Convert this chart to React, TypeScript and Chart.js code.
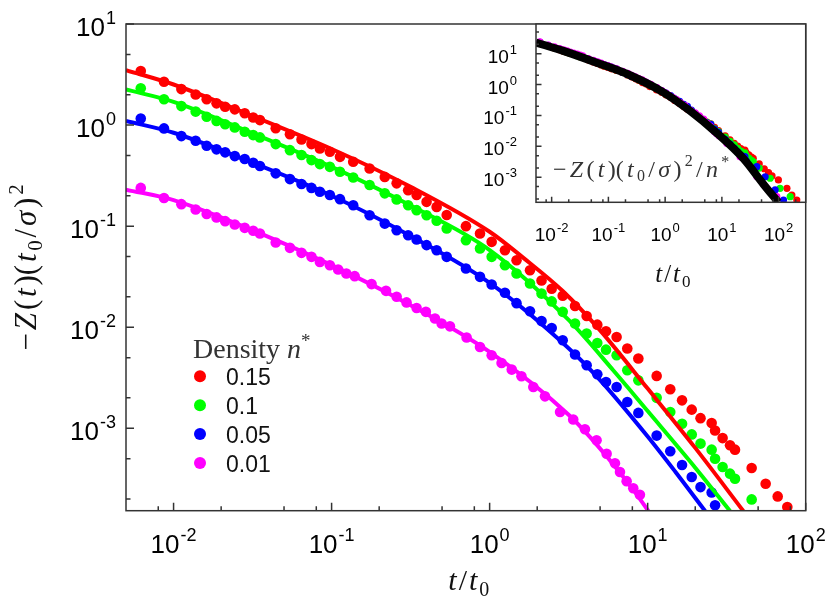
import React, { useEffect, useRef } from 'react';
import { Chart, registerables } from 'chart.js';

Chart.register(...registerables);

// ---------------- data ----------------
const densityLabels = ['0.15', '0.1', '0.05', '0.01'];
const densities = [0.15, 0.1, 0.05, 0.01];
const colors = ['#ff0000', '#00ff00', '#0000ff', '#ff00ff'];

// simulation points [t/t0, -Z (t0/sigma)^2]
const simRed: [number, number][] = [
  [0.0062, 3.43], [0.0087, 2.68], [0.0112, 2.27], [0.0138, 2.01], [0.0162, 1.8], [0.0187, 1.64],
  [0.0212, 1.52], [0.0244, 1.43], [0.0282, 1.31], [0.0319, 1.19], [0.0352, 1.12], [0.0443, 0.93],
  [0.0545, 0.81], [0.0645, 0.72], [0.0746, 0.648], [0.0843, 0.588], [0.0975, 0.544], [0.113, 0.485],
  [0.137, 0.433], [0.174, 0.372], [0.217, 0.307], [0.258, 0.265], [0.305, 0.227], [0.345, 0.203],
  [0.399, 0.174], [0.462, 0.155], [0.535, 0.129], [0.708, 0.1], [0.869, 0.0847], [1.03, 0.0699],
  [1.25, 0.0578], [1.48, 0.046], [1.8, 0.0366], [2.13, 0.029], [2.47, 0.024], [2.9, 0.0205],
  [3.47, 0.0162], [4.11, 0.0129], [4.8, 0.0106], [5.45, 0.0091], [6.36, 0.008], [7.43, 0.00615],
  [8.73, 0.0049], [11.4, 0.0033], [13.9, 0.00243], [16.5, 0.00189], [19.0, 0.00153], [21.6, 0.00126],
  [25.4, 0.00113], [26.7, 0.00095], [29.8, 0.0008], [33.2, 0.00068], [35.7, 0.000615], [45.5, 0.000405],
  [55.8, 0.000283], [66.5, 0.000212], [76.5, 0.000166], [99, 0.000123], [140, 0.000066], [171, 0.00004],
  [209, 0.0000276],
];
const simGreen: [number, number][] = [
  [0.0062, 2.31], [0.0087, 1.8], [0.0112, 1.54], [0.0138, 1.36], [0.0162, 1.21], [0.0187, 1.1],
  [0.0212, 1.02], [0.0244, 0.948], [0.0282, 0.859], [0.0319, 0.796], [0.0352, 0.755], [0.0443, 0.648],
  [0.0545, 0.565], [0.0645, 0.505], [0.0746, 0.45], [0.0843, 0.411], [0.0975, 0.386], [0.113, 0.345],
  [0.137, 0.303], [0.174, 0.255], [0.217, 0.211], [0.258, 0.184], [0.305, 0.161], [0.345, 0.144],
  [0.399, 0.128], [0.462, 0.113], [0.535, 0.0948], [0.708, 0.0726], [0.869, 0.0601], [1.03, 0.0497],
  [1.25, 0.0411], [1.48, 0.034], [1.8, 0.0271], [2.13, 0.0215], [2.47, 0.018], [2.9, 0.0142],
  [3.47, 0.0109], [4.11, 0.00867], [4.8, 0.00698], [5.45, 0.006], [6.36, 0.00528], [7.43, 0.00375],
  [8.73, 0.00298], [11.4, 0.002], [13.9, 0.00145], [16.5, 0.00111], [19.0, 0.00087], [21.6, 0.000706],
  [25.4, 0.000615], [26.7, 0.0005], [29.8, 0.000414], [33.2, 0.000356], [35.7, 0.000317], [45.5, 0.000198],
  [70.8, 0.000093], [106, 0.000044], [160, 0.0000235],
];
const simBlue: [number, number][] = [
  [0.0062, 1.16], [0.0087, 0.927], [0.0112, 0.778], [0.0138, 0.7], [0.0162, 0.624], [0.0187, 0.575],
  [0.0212, 0.537], [0.0244, 0.493], [0.0282, 0.461], [0.0319, 0.424], [0.0352, 0.393], [0.0443, 0.333],
  [0.0545, 0.292], [0.0645, 0.261], [0.0746, 0.239], [0.0843, 0.219], [0.0975, 0.203], [0.113, 0.185],
  [0.137, 0.161], [0.174, 0.128], [0.217, 0.106], [0.258, 0.0912], [0.305, 0.0814], [0.345, 0.0738],
  [0.399, 0.0649], [0.462, 0.0578], [0.535, 0.0497], [0.708, 0.0381], [0.869, 0.0315], [1.03, 0.0265],
  [1.25, 0.0219], [1.48, 0.0173], [1.8, 0.0144], [2.13, 0.0115], [2.47, 0.0098], [2.9, 0.00743],
  [3.47, 0.00537], [4.11, 0.00421], [4.8, 0.00343], [5.45, 0.00287], [6.36, 0.00256], [7.43, 0.00182],
  [8.73, 0.00142], [11.4, 0.000847], [13.9, 0.000592], [16.5, 0.000433], [19.0, 0.00033], [21.6, 0.000262],
  [25.4, 0.000232], [26.7, 0.000173], [41.2, 0.00011], [57.8, 0.000052], [86.7, 0.0000195], [122, 0.0000092],
];
const simMagenta: [number, number][] = [
  [0.0062, 0.239], [0.0087, 0.19], [0.0112, 0.165], [0.0138, 0.146], [0.0162, 0.132], [0.0187, 0.122],
  [0.0212, 0.112], [0.0244, 0.104], [0.0282, 0.0962], [0.0319, 0.0899], [0.0352, 0.0847], [0.0443, 0.069],
  [0.0545, 0.061], [0.0645, 0.0544], [0.0746, 0.0497], [0.0843, 0.0443], [0.0975, 0.0411], [0.11, 0.0373],
  [0.124, 0.034], [0.14, 0.032], [0.179, 0.0267], [0.221, 0.0229], [0.258, 0.02], [0.298, 0.0176],
  [0.345, 0.0155], [0.395, 0.0142], [0.451, 0.0122], [0.497, 0.0109], [0.561, 0.0102], [0.715, 0.0079],
  [0.869, 0.00638], [1.03, 0.00528], [1.19, 0.00443], [1.38, 0.00381], [1.59, 0.00327], [1.89, 0.00256],
  [2.24, 0.00207], [2.79, 0.00145], [3.38, 0.00122], [4.01, 0.00098], [4.75, 0.00076], [5.5, 0.00056],
  [6.21, 0.00045], [6.68, 0.00037], [7.36, 0.0003], [8.11, 0.000255], [8.93, 0.00022],
  [12.2, 0.000126], [20.9, 0.000046], [41.2, 0.0000105], [93, 0.00000235],
];

// theory curves
const theoryRed: [number, number][] = [
  [0.005, 3.5], [0.01, 2.52], [0.0316, 1.23], [0.1, 0.58], [0.316, 0.245], [1, 0.088], [1.65, 0.048],
  [2.9, 0.0228], [5, 0.0093], [10, 0.00247], [20, 0.00064], [40.3, 0.000152],
];
const theoryGreen: [number, number][] = [
  [0.005, 2.25], [0.01, 1.7], [0.0316, 0.83], [0.1, 0.386], [0.316, 0.16], [1, 0.058], [3.16, 0.0118],
  [6.05, 0.00375], [10, 0.00148], [20, 0.000408], [33.2, 0.000152],
];
const theoryBlue: [number, number][] = [
  [0.005, 1.1], [0.01, 0.84], [0.0316, 0.424], [0.1, 0.2], [0.316, 0.08], [1, 0.0275], [3.16, 0.0062],
  [5, 0.003], [10, 0.00083], [15, 0.00037], [23.1, 0.000152],
];
const theoryMagenta: [number, number][] = [
  [0.005, 0.23], [0.01, 0.181], [0.0316, 0.0912], [0.1, 0.0411], [0.316, 0.0165], [1, 0.0057],
  [3.16, 0.00136], [5, 0.00063], [8, 0.000253], [10.1, 0.000152],
];
// inset: scaled theory -Z (t0/sigma)^2 / n*
const theoryScaled: [number, number][] = [
  [0.0053, 23], [0.016, 12.3], [0.062, 5.1], [0.24, 2.0], [0.93, 0.56], [2.75, 0.14], [8.1, 0.027],
  [24, 0.004], [54, 0.0006], [99, 0.000155],
];

const sims = [simRed, simGreen, simBlue, simMagenta];
const theories = [theoryRed, theoryGreen, theoryBlue, theoryMagenta];

const mainXMajor = [0.01, 0.1, 1, 10, 100];
const mainYMajor = [0.001, 0.01, 0.1, 1, 10];
const insetXMajor = [0.01, 0.1, 1, 10, 100];
const insetYMajor = [0.001, 0.01, 0.1, 1, 10];
const xMinorMantissas = [2, 5, 8];
const yMinorMantissas = [2, 5];

// ---------------- drawing helpers ----------------
const SANS = '"Liberation Sans", Arial, Helvetica, sans-serif';
const SERIF = '"Liberation Serif", "Times New Roman", serif';

type Piece = { t: string; f: string; dy?: number };

function richWidth(ctx: CanvasRenderingContext2D, pieces: Piece[], gap: number) {
  let w = 0;
  pieces.forEach((p, i) => {
    ctx.font = p.f;
    w += ctx.measureText(p.t).width + (i ? gap : 0);
  });
  return w;
}

function drawRich(
  ctx: CanvasRenderingContext2D,
  pieces: Piece[],
  x: number,
  y: number,
  align: 'left' | 'center' | 'right',
  gap = 0
) {
  const w = richWidth(ctx, pieces, gap);
  let cx = align === 'left' ? x : align === 'center' ? x - w / 2 : x - w;
  ctx.textAlign = 'left';
  ctx.textBaseline = 'alphabetic';
  pieces.forEach((p, i) => {
    if (i) cx += gap;
    ctx.font = p.f;
    ctx.fillText(p.t, cx, y + (p.dy || 0));
    cx += ctx.measureText(p.t).width;
  });
}

function powPieces(v: number, base: number, exp: number, raise: number): Piece[] {
  const e = Math.round(Math.log10(v));
  return [
    { t: '10', f: `${base}px ${SANS}` },
    { t: String(e), f: `${exp}px ${SANS}`, dy: -raise },
  ];
}

function minorValues(min: number, max: number, mant: number[]) {
  const out: number[] = [];
  for (let d = -6; d <= 3; d++) {
    for (const m of mant) {
      const v = m * Math.pow(10, d);
      if (v > min && v < max) out.push(v);
    }
  }
  return out;
}

type AxisStyle = {
  xMajor: number[];
  yMajor: number[];
  majorLen: number;
  minorLen: number;
  base: number;
  exp: number;
  raise: number;
  yLabelRightGap: number;
  yLabelDy: number;
  xLabelDy: number;
};

function drawFrame(chart: any, s: AxisStyle) {
  const { ctx, chartArea: a, scales } = chart;
  const x = scales.x;
  const y = scales.y;
  ctx.save();
  ctx.strokeStyle = '#333';
  ctx.lineWidth = 1.5;
  ctx.beginPath();
  for (const v of s.xMajor) {
    const px = x.getPixelForValue(v);
    ctx.moveTo(px, a.bottom);
    ctx.lineTo(px, a.bottom - s.majorLen);
  }
  for (const v of minorValues(x.min, x.max, xMinorMantissas)) {
    const px = x.getPixelForValue(v);
    ctx.moveTo(px, a.bottom);
    ctx.lineTo(px, a.bottom - s.minorLen);
  }
  for (const v of s.yMajor) {
    const py = y.getPixelForValue(v);
    ctx.moveTo(a.left, py);
    ctx.lineTo(a.left + s.majorLen, py);
  }
  for (const v of minorValues(y.min, y.max, yMinorMantissas)) {
    const py = y.getPixelForValue(v);
    ctx.moveTo(a.left, py);
    ctx.lineTo(a.left + s.minorLen, py);
  }
  ctx.stroke();
  ctx.strokeRect(a.left, a.top, a.right - a.left, a.bottom - a.top);

  ctx.fillStyle = '#000';
  for (const v of s.xMajor) {
    const px = x.getPixelForValue(v);
    drawRich(ctx, powPieces(v, s.base, s.exp, s.raise), px, a.bottom + s.xLabelDy, 'center', 1);
  }
  for (const v of s.yMajor) {
    const py = y.getPixelForValue(v);
    drawRich(ctx, powPieces(v, s.base, s.exp, s.raise), a.left - s.yLabelRightGap, py + s.yLabelDy, 'right', 1);
  }
  ctx.restore();
}

function zPieces(size: number, withN: boolean): Piece[] {
  const sub = Math.round(size * 0.68);
  const p: Piece[] = [
    { t: '−', f: `${size}px ${SERIF}` },
    { t: 'Z', f: `italic ${size}px ${SERIF}` },
    { t: '(', f: `${size}px ${SERIF}` },
    { t: 't', f: `italic ${size}px ${SERIF}` },
    { t: ')(', f: `${size}px ${SERIF}` },
    { t: 't', f: `italic ${size}px ${SERIF}` },
    { t: '0', f: `${sub}px ${SERIF}`, dy: size * 0.2 },
    { t: '/', f: `${size}px ${SERIF}` },
    { t: 'σ', f: `italic ${size}px ${SERIF}` },
    { t: ')', f: `${size}px ${SERIF}` },
    { t: '2', f: `${sub}px ${SERIF}`, dy: -size * 0.42 },
  ];
  if (withN) {
    p.push({ t: '/', f: `${size}px ${SERIF}` });
    p.push({ t: 'n', f: `italic ${size}px ${SERIF}` });
    p.push({ t: '*', f: `${sub}px ${SERIF}`, dy: -size * 0.4 });
  }
  return p;
}

function tPieces(size: number): Piece[] {
  const sub = Math.round(size * 0.68);
  return [
    { t: 't', f: `italic ${size}px ${SERIF}` },
    { t: '/', f: `${size}px ${SERIF}` },
    { t: 't', f: `italic ${size}px ${SERIF}` },
    { t: '0', f: `${sub}px ${SERIF}`, dy: size * 0.2 },
  ];
}

const mainDecor = {
  id: 'mainDecor',
  afterDraw(chart: any) {
    drawFrame(chart, {
      xMajor: mainXMajor,
      yMajor: mainYMajor,
      majorLen: 8,
      minorLen: 4.5,
      base: 26,
      exp: 18,
      raise: 12,
      yLabelRightGap: 10,
      yLabelDy: 11.5,
      xLabelDy: 42.5,
    });
    const { ctx, chartArea: a } = chart;
    ctx.save();
    ctx.fillStyle = '#111';
    // x title
    drawRich(ctx, tPieces(30), (a.left + a.right) / 2 + 3, a.bottom + 79, 'center', 2);
    // y title (rotated)
    ctx.translate(36, (a.top + a.bottom) / 2);
    ctx.rotate(-Math.PI / 2);
    drawRich(ctx, zPieces(31, false), 0, 0, 'center', 2.8);
    ctx.restore();

    // legend
    ctx.save();
    ctx.fillStyle = '#333';
    drawRich(
      ctx,
      [
        { t: 'Density ', f: `28px ${SERIF}` },
        { t: 'n', f: `italic 28px ${SERIF}` },
        { t: '*', f: `19px ${SERIF}`, dy: -11 },
      ],
      193,
      358,
      'left',
      0
    );
    densityLabels.forEach((lab, i) => {
      const base = 385 + i * 28.9;
      ctx.beginPath();
      ctx.fillStyle = colors[i];
      ctx.arc(200, base - 8.7, 6, 0, Math.PI * 2);
      ctx.fill();
      ctx.fillStyle = '#111';
      ctx.font = `23px ${SANS}`;
      ctx.textAlign = 'left';
      ctx.textBaseline = 'alphabetic';
      ctx.fillText(lab, 226, base);
    });
    ctx.restore();
  },
};

const insetDecor = {
  id: 'insetDecor',
  beforeDatasetsDraw(chart: any) {
    const { ctx, chartArea: a } = chart;
    ctx.save();
    ctx.fillStyle = '#fff';
    ctx.fillRect(a.left, a.top, a.right - a.left, a.bottom - a.top);
    ctx.restore();
  },
  afterDraw(chart: any) {
    const { ctx, chartArea: a } = chart;
    ctx.save();
    ctx.fillStyle = '#333';
    drawRich(ctx, zPieces(24, true), a.left + 17, a.top + 152.5, 'left', 3.3);
    ctx.restore();
    drawFrame(chart, {
      xMajor: insetXMajor,
      yMajor: insetYMajor,
      majorLen: 5.5,
      minorLen: 3,
      base: 19,
      exp: 13,
      raise: 9,
      yLabelRightGap: 19,
      yLabelDy: 9,
      xLabelDy: 38.5,
    });
    ctx.save();
    ctx.fillStyle = '#111';
    drawRich(ctx, tPieces(25), (a.left + a.right) / 2 + 2, a.bottom + 80, 'center', 2);
    ctx.restore();
  },
};

const toPts = (arr: [number, number][], scale = 1) => arr.map(([x, y]) => ({ x, y: y * scale }));

function mainConfig(): any {
  const datasets: any[] = [];
  sims.forEach((s, i) => {
    datasets.push({
      label: densityLabels[i],
      data: toPts(s),
      backgroundColor: colors[i],
      borderColor: colors[i],
      pointRadius: 5.3,
      pointBorderWidth: 0,
      showLine: false,
    });
    datasets.push({
      label: densityLabels[i] + ' theory',
      data: toPts(theories[i]),
      borderColor: colors[i],
      borderWidth: 4,
      pointRadius: 0,
      showLine: true,
      fill: false,
      cubicInterpolationMode: 'monotone',
    });
  });
  return {
    type: 'scatter',
    data: { datasets },
    options: {
      animation: false,
      responsive: false,
      devicePixelRatio: 1,
      events: [],
      layout: { padding: { left: 126, top: 24, right: 24.3, bottom: 92.3 } },
      plugins: { legend: { display: false }, tooltip: { enabled: false } },
      scales: {
        x: { type: 'logarithmic', min: 0.005, max: 100, display: false },
        y: { type: 'logarithmic', min: 1.53e-4, max: 10, display: false },
      },
    },
    plugins: [mainDecor],
  };
}

function insetConfig(): any {
  const datasets: any[] = [
    {
      label: 'theory',
      data: toPts(theoryScaled),
      borderColor: '#000',
      borderWidth: 8,
      pointRadius: 0,
      showLine: true,
      fill: false,
      cubicInterpolationMode: 'monotone',
    },
  ];
  for (let i = sims.length - 1; i >= 0; i--) {
    datasets.push({
      label: densityLabels[i],
      data: toPts(sims[i], 1 / densities[i]),
      backgroundColor: colors[i],
      pointRadius: 3.6,
      pointBorderWidth: 0,
      showLine: false,
    });
  }
  return {
    type: 'scatter',
    data: { datasets },
    options: {
      animation: false,
      responsive: false,
      devicePixelRatio: 1,
      events: [],
      layout: { padding: { left: 96, top: 24, right: 24.3, bottom: 97.7 } },
      plugins: { legend: { display: false }, tooltip: { enabled: false } },
      scales: {
        x: { type: 'logarithmic', min: 0.0053, max: 300, display: false },
        y: { type: 'logarithmic', min: 1.55e-4, max: 91, display: false },
      },
    },
    plugins: [insetDecor],
  };
}

export default function App() {
  const mainRef = useRef<HTMLCanvasElement>(null);
  const insetRef = useRef<HTMLCanvasElement>(null);
  useEffect(() => {
    const main = new Chart(mainRef.current as HTMLCanvasElement, mainConfig());
    const inset = new Chart(insetRef.current as HTMLCanvasElement, insetConfig());
    return () => {
      main.destroy();
      inset.destroy();
    };
  }, []);
  return (
    <div style={{ position: 'absolute', left: 0, top: 0, width: 830, height: 603, background: '#fff' }}>
      <canvas ref={mainRef} width={830} height={603} style={{ position: 'absolute', left: 0, top: 0 }} />
      <canvas ref={insetRef} width={390} height={300} style={{ position: 'absolute', left: 440, top: 0 }} />
    </div>
  );
}
